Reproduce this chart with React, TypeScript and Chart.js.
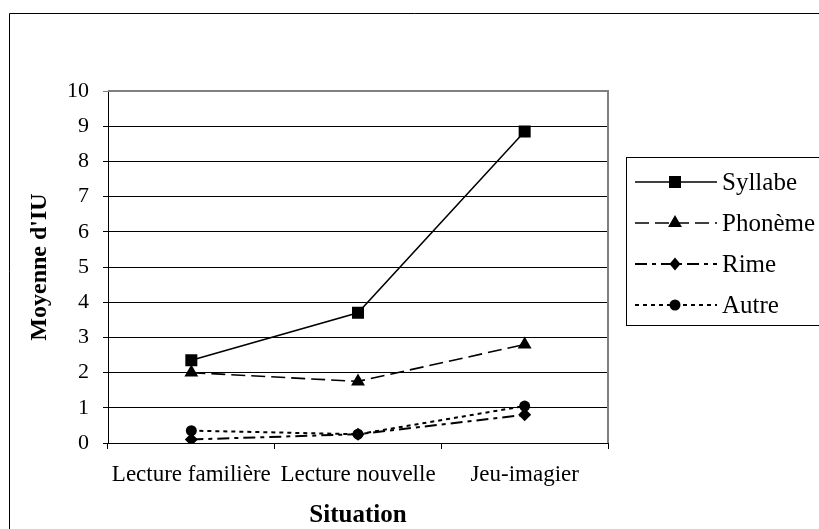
import React, { useEffect, useRef } from "react";
import { Chart, registerables } from "chart.js";

Chart.register(...registerables);

const categories = ["Lecture familière", "Lecture nouvelle", "Jeu-imagier"];
const seriesNames = ["Syllabe", "Phonème", "Rime", "Autre"];
const syllabe = [2.35, 3.7, 8.85];
const phoneme = [2.0, 1.75, 2.8];
const rime = [0.1, 0.25, 0.8];
const autre = [0.35, 0.25, 1.05];
const yTicks = [0, 1, 2, 3, 4, 5, 6, 7, 8, 9, 10];
const xTitle = "Situation";
const yTitle = "Moyenne d'IU";

const FONT = "'Liberation Serif', 'Times New Roman', serif";

const styles = [
  { dash: [], width: 1.5, point: "rect", radius: 8.5 },
  { dash: [14, 6], width: 1.6, point: "triangle", radius: 8 },
  { dash: [12, 5, 4, 5], width: 2, point: "rectRot", radius: 6.5 },
  { dash: [4, 4], width: 2, point: "circle", radius: 5.5 },
];

function drawMarker(ctx: CanvasRenderingContext2D, style: string, r: number, x: number, y: number) {
  ctx.save();
  ctx.setLineDash([]);
  ctx.fillStyle = "#000";
  ctx.beginPath();
  if (style === "rect") {
    const s = Math.SQRT1_2 * r;
    ctx.rect(x - s, y - s, 2 * s, 2 * s);
  } else if (style === "triangle") {
    ctx.moveTo(x, y - r);
    ctx.lineTo(x + r * Math.cos(Math.PI / 6), y + r * 0.5);
    ctx.lineTo(x - r * Math.cos(Math.PI / 6), y + r * 0.5);
    ctx.closePath();
  } else if (style === "rectRot") {
    ctx.moveTo(x, y - r);
    ctx.lineTo(x + r * 0.85, y);
    ctx.lineTo(x, y + r);
    ctx.lineTo(x - r * 0.85, y);
    ctx.closePath();
  } else {
    ctx.arc(x, y, r, 0, Math.PI * 2);
  }
  ctx.fill();
  ctx.restore();
}

const framePlugin = {
  id: "frame",
  beforeDraw(chart: any) {
    const ctx = chart.ctx;
    ctx.save();
    ctx.strokeStyle = "#000";
    ctx.lineWidth = 1;
    ctx.beginPath();
    ctx.moveTo(9.5, 600);
    ctx.lineTo(9.5, 13.5);
    ctx.lineTo(900, 13.5);
    ctx.stroke();
    ctx.restore();
  },
  afterDatasetsDraw(chart: any) {
    const ctx = chart.ctx;
    const a = chart.chartArea;
    ctx.save();
    ctx.strokeStyle = "#808080";
    ctx.lineWidth = 2;
    ctx.beginPath();
    ctx.moveTo(a.left, a.top);
    ctx.lineTo(a.right, a.top);
    ctx.lineTo(a.right, a.bottom);
    ctx.stroke();
    ctx.restore();
  },
  afterDraw(chart: any) {
    const ctx = chart.ctx;
    ctx.save();
    ctx.strokeStyle = "#000";
    ctx.lineWidth = 1;
    ctx.strokeRect(626.5, 157.5, 300, 168);
    const rowY = [182, 223, 264, 305];
    chart.data.datasets.forEach((ds: any, i: number) => {
      const y = rowY[i];
      const st = styles[i];
      ctx.save();
      ctx.setLineDash(st.dash);
      ctx.lineWidth = st.width;
      ctx.strokeStyle = "#000";
      ctx.beginPath();
      ctx.moveTo(635, y);
      ctx.lineTo(717, y);
      ctx.stroke();
      ctx.restore();
      drawMarker(ctx, st.point, st.radius, 675, y);
      ctx.fillStyle = "#000";
      ctx.font = `25px ${FONT}`;
      ctx.textAlign = "left";
      ctx.textBaseline = "middle";
      ctx.fillText(ds.label, 722, y + 1);
    });
    ctx.restore();
  },
};

export default function App() {
  const ref = useRef<HTMLCanvasElement>(null);
  useEffect(() => {
    if (!ref.current) return;
    const series = [syllabe, phoneme, rime, autre];
    const chart = new Chart(ref.current, {
      type: "line",
      data: {
        labels: categories,
        datasets: series.map((d, i) => ({
          label: seriesNames[i],
          data: d,
          borderColor: "#000",
          backgroundColor: "#000",
          borderWidth: styles[i].width,
          borderDash: styles[i].dash,
          pointStyle: styles[i].point as any,
          pointRadius: styles[i].radius,
          pointBackgroundColor: "#000",
          pointBorderColor: "#000",
          pointBorderWidth: 0,
          tension: 0,
          fill: false,
        })),
      },
      options: {
        responsive: false,
        animation: false,
        devicePixelRatio: 1,
        layout: { padding: { left: 0, top: 91, right: 211, bottom: 0 } },
        plugins: {
          legend: { display: false },
          tooltip: { enabled: false },
        },
        scales: {
          x: {
            offset: true,
            grid: {
              offset: true,
              drawOnChartArea: false,
              drawTicks: true,
              tickLength: 6,
              color: "#000",
            },
            border: { display: true, color: "#000", width: 1 },
            ticks: {
              color: "#000",
              font: { family: FONT, size: 23 },
              padding: 12,
              maxRotation: 0,
              autoSkip: false,
            },
            title: {
              display: true,
              text: xTitle,
              color: "#000",
              font: { family: FONT, size: 25, weight: "bold", lineHeight: 1.1 },
              padding: { top: 0, bottom: 0 },
            },
            afterFit(scale: any) {
              scale.height = 86;
            },
          },
          y: {
            min: 0,
            max: 10,
            afterBuildTicks(scale: any) {
              scale.ticks = yTicks.map((v) => ({ value: v }));
            },
            grid: {
              color: (c: any) => (c.tick && c.tick.value === 10 ? "#808080" : "#000"),
              lineWidth: 1,
              drawTicks: true,
              tickLength: 5,
            },
            border: { display: true, color: "#000", width: 1 },
            ticks: {
              color: "#000",
              font: { family: FONT, size: 22 },
              padding: 14,
            },
            title: {
              display: true,
              text: yTitle,
              color: "#000",
              font: { family: FONT, size: 24, weight: "bold", lineHeight: 1.2 },
              padding: { top: 25, bottom: 0 },
            },
            afterFit(scale: any) {
              scale.width = 108;
            },
          },
        },
      },
      plugins: [framePlugin],
    });
    return () => chart.destroy();
  }, []);
  return (
    <div style={{ position: "absolute", left: 0, top: 0, width: 819, height: 529, background: "#fff" }}>
      <canvas ref={ref} width={819} height={529} style={{ display: "block" }} />
    </div>
  );
}
